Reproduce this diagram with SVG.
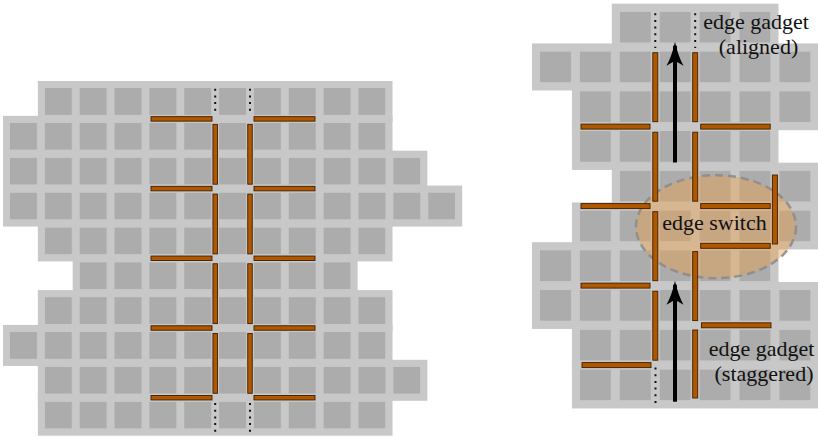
<svg xmlns="http://www.w3.org/2000/svg" width="818" height="437" viewBox="0 0 818 437">
<style>
.lt{fill:#c8c8c8}
.wl{fill:#b05800;stroke:#3d1e00;stroke-width:0.9}
.dot{stroke:#111;stroke-width:2;stroke-dasharray:2 4.7;fill:none}
.arr{stroke:#000;stroke-width:4;fill:none;marker-end:url(#ah)}
.lbl{font-size:22px;fill:#111;text-anchor:middle}
</style>
<defs>
<pattern id="pl" patternUnits="userSpaceOnUse" x="10" y="88" width="34.85" height="34.85"><rect x="0" y="0" width="27" height="27" fill="#acacac"/></pattern>
<pattern id="pr" patternUnits="userSpaceOnUse" x="540" y="11.7" width="39.9" height="39.75"><rect x="0" y="0" width="31" height="31" fill="#acacac"/></pattern>
<marker id="ah" markerUnits="userSpaceOnUse" markerWidth="26" markerHeight="20" refX="20" refY="10" orient="auto" viewBox="0 0 26 20"><path d="M0,1.5 Q10,7 24,10 Q10,13 0,18.5 L5,10 Z" fill="#000"/></marker>
</defs>
<rect width="818" height="437" fill="#fff"/>
<g id="grid-left">
<rect class="lt" x="37.85" y="81" width="354.65" height="41"/>
<rect class="lt" x="3" y="115.85" width="389.5" height="41"/>
<rect class="lt" x="3" y="150.7" width="424.35" height="41"/>
<rect class="lt" x="3" y="185.55" width="459.2" height="41"/>
<rect class="lt" x="37.85" y="220.4" width="354.65" height="41"/>
<rect class="lt" x="72.7" y="255.25" width="284.95" height="41"/>
<rect class="lt" x="37.85" y="290.1" width="354.65" height="41"/>
<rect class="lt" x="3" y="324.95" width="389.5" height="41"/>
<rect class="lt" x="37.85" y="359.8" width="389.5" height="41"/>
<rect class="lt" x="37.85" y="394.65" width="354.65" height="41"/>
<g fill="url(#pl)">
<rect x="44.85" y="88" width="340.65" height="27"/>
<rect x="10" y="122.85" width="375.5" height="27"/>
<rect x="10" y="157.7" width="410.35" height="27"/>
<rect x="10" y="192.55" width="445.2" height="27"/>
<rect x="44.85" y="227.4" width="340.65" height="27"/>
<rect x="79.7" y="262.25" width="270.95" height="27"/>
<rect x="44.85" y="297.1" width="340.65" height="27"/>
<rect x="10" y="331.95" width="375.5" height="27"/>
<rect x="44.85" y="366.8" width="375.5" height="27"/>
<rect x="44.85" y="401.65" width="340.65" height="27"/>
</g>
</g>
<g id="grid-right">
<rect class="lt" x="611.8" y="3.7" width="166.7" height="47"/>
<rect class="lt" x="532" y="43.45" width="290" height="47"/>
<rect class="lt" x="571.9" y="83.2" width="250" height="47"/>
<rect class="lt" x="571.9" y="122.95" width="206.6" height="47"/>
<rect class="lt" x="611.8" y="162.7" width="210" height="47"/>
<rect class="lt" x="571.9" y="202.45" width="250" height="47"/>
<rect class="lt" x="532" y="242.2" width="246.5" height="47"/>
<rect class="lt" x="532" y="281.95" width="290" height="47"/>
<rect class="lt" x="571.9" y="321.7" width="250" height="47"/>
<rect class="lt" x="571.9" y="361.45" width="250" height="47"/>
<g fill="url(#pr)">
<rect x="619.8" y="11.7" width="150.7" height="31"/>
<rect x="540" y="51.45" width="280" height="31"/>
<rect x="579.9" y="91.2" width="240" height="31"/>
<rect x="579.9" y="130.95" width="190.6" height="31"/>
<rect x="619.8" y="170.7" width="200" height="31"/>
<rect x="579.9" y="210.45" width="240" height="31"/>
<rect x="540" y="250.2" width="230.5" height="31"/>
<rect x="540" y="289.95" width="280" height="31"/>
<rect x="579.9" y="329.7" width="240" height="31"/>
<rect x="579.9" y="369.45" width="240" height="31"/>
</g>
</g>
<g id="edge-switch">
<ellipse cx="716" cy="226.7" rx="80" ry="51.5" fill="#e8a050" fill-opacity="0.45" stroke="#8c8c8c" stroke-opacity="0.9" stroke-width="2.5" stroke-dasharray="8 5"/>
</g>
<g id="connectors">
<g id="wires-left">
<rect class="wl" x="151" y="116.65" width="61" height="4.5"/>
<rect class="wl" x="151" y="186.35" width="61" height="4.5"/>
<rect class="wl" x="151" y="256.05" width="61" height="4.5"/>
<rect class="wl" x="151" y="325.75" width="61" height="4.5"/>
<rect class="wl" x="151" y="395.45" width="61" height="4.5"/>
<rect class="wl" x="254" y="116.65" width="61" height="4.5"/>
<rect class="wl" x="254" y="186.35" width="61" height="4.5"/>
<rect class="wl" x="254" y="256.05" width="61" height="4.5"/>
<rect class="wl" x="254" y="325.75" width="61" height="4.5"/>
<rect class="wl" x="254" y="395.45" width="61" height="4.5"/>
<rect class="wl" x="212.95" y="124.35" width="4.5" height="59.85"/>
<rect class="wl" x="212.95" y="194.05" width="4.5" height="59.85"/>
<rect class="wl" x="212.95" y="263.75" width="4.5" height="59.85"/>
<rect class="wl" x="212.95" y="333.45" width="4.5" height="59.85"/>
<rect class="wl" x="247.75" y="124.35" width="4.5" height="59.85"/>
<rect class="wl" x="247.75" y="194.05" width="4.5" height="59.85"/>
<rect class="wl" x="247.75" y="263.75" width="4.5" height="59.85"/>
<rect class="wl" x="247.75" y="333.45" width="4.5" height="59.85"/>
<line class="dot" x1="215.2" y1="88.7" x2="215.2" y2="114"/>
<line class="dot" x1="250" y1="88.7" x2="250" y2="114"/>
<line class="dot" x1="215.2" y1="403" x2="215.2" y2="434"/>
<line class="dot" x1="250" y1="403" x2="250" y2="434"/>
</g>
<g id="wires-right">
<rect class="wl" x="652.8" y="52.7" width="5" height="69"/>
<rect class="wl" x="652.8" y="132.2" width="5" height="69"/>
<rect class="wl" x="652.8" y="211.7" width="5" height="69"/>
<rect class="wl" x="652.8" y="291.2" width="5" height="69"/>
<rect class="wl" x="692.7" y="52.7" width="5" height="69"/>
<rect class="wl" x="692.7" y="132.2" width="5" height="69"/>
<rect class="wl" x="692.7" y="251.6" width="5" height="69"/>
<rect class="wl" x="692.7" y="330" width="5" height="68"/>
<rect class="wl" x="772.4" y="175" width="5" height="69"/>
<rect class="wl" x="581" y="124.1" width="69" height="5"/>
<rect class="wl" x="581" y="203.6" width="69" height="5"/>
<rect class="wl" x="581" y="283.1" width="69" height="5"/>
<rect class="wl" x="582" y="362.6" width="69" height="5"/>
<rect class="wl" x="700.7" y="124.1" width="69.5" height="5"/>
<rect class="wl" x="700.7" y="203.6" width="69.5" height="5"/>
<rect class="wl" x="700.7" y="243.3" width="69.5" height="5"/>
<rect class="wl" x="701.5" y="322.8" width="69.5" height="5"/>
<line class="dot" x1="655.3" y1="13.2" x2="655.3" y2="48"/>
<line class="dot" x1="695.2" y1="13.2" x2="695.2" y2="48"/>
<line class="dot" x1="655.5" y1="367.5" x2="655.5" y2="403"/>
</g>
<g id="arrows">
<line class="arr" x1="675" y1="162.5" x2="675" y2="45.7"/>
<line class="arr" x1="675" y1="401.7" x2="675" y2="284.7"/>
</g>
</g>
<g id="labels" font-family="'Liberation Serif', 'DejaVu Serif', serif">
<text class="lbl" x="756" y="29">edge gadget</text>
<text class="lbl" x="758.5" y="54">(aligned)</text>
<text class="lbl" x="714.5" y="230" fill="#2a1f10">edge switch</text>
<text class="lbl" x="761.5" y="356">edge gadget</text>
<text class="lbl" x="764" y="380.5">(staggered)</text>
</g>
</svg>
